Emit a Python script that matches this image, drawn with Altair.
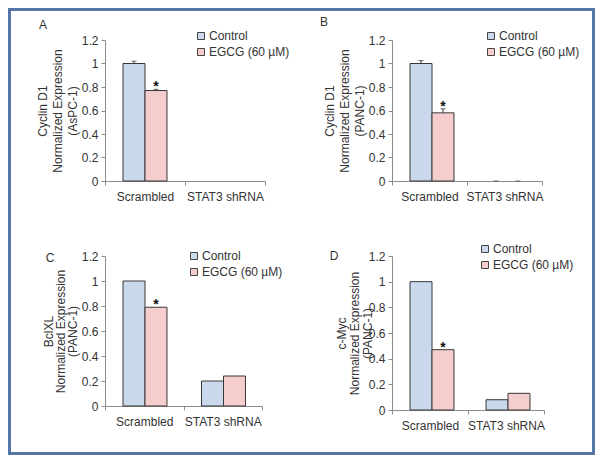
import altair as alt
import pandas as pd

# ---------------- data ----------------
categories = ["Scrambled", "STAT3 shRNA"]
series = ["Control", "EGCG (60 µM)"]
y_ticks = [0, 0.2, 0.4, 0.6, 0.8, 1.0, 1.2]

# Panel A: Cyclin D1 (AsPC-1)
a_control = [1.00, None]
a_egcg = [0.77, None]
a_control_err = [0.02, None]
a_egcg_err = [0.01, None]

# Panel B: Cyclin D1 (PANC-1)
b_control = [1.00, 0.0]
b_egcg = [0.58, 0.0]
b_control_err = [0.025, 0.0]
b_egcg_err = [0.035, 0.0]

# Panel C: BclXL (PANC-1)
c_control = [1.00, 0.20]
c_egcg = [0.79, 0.24]

# Panel D: c-Myc (PANC-1)
d_control = [1.00, 0.08]
d_egcg = [0.47, 0.13]

# asterisk over the EGCG bar of each category
significant = [True, False]

# ---------------- style ----------------
FONT = "Liberation Sans"
TXT = "#333333"
AX = "#8c8c8c"
FILLS = ["#cad8ec", "#f5cdcd"]
FRAME = "#5577a8"


def make_df(ctrl, egcg, ctrl_err=None, egcg_err=None):
    rows = []
    for i, cat in enumerate(categories):
        for s, vals, errs in ((series[0], ctrl, ctrl_err), (series[1], egcg, egcg_err)):
            v = vals[i]
            if v is None:
                continue
            e = errs[i] if errs is not None else None
            rows.append(dict(cat=cat, series=s, value=v, err=e,
                             hi=v + (e or 0.0),
                             star="*" if (s == series[1] and significant[i]) else ""))
    return pd.DataFrame(rows)


def panel(letter, title, df, w, h, letter_xy, legend_xy, title_pad, title_lh, frame=None):
    x = alt.X("cat:N",
              scale=alt.Scale(domain=categories, paddingInner=0, paddingOuter=0),
              axis=alt.Axis(title=None, labelAngle=0, tickBand="extent",
                            domainColor=AX, tickColor=AX, tickSize=4,
                            labelPadding=6, labelFontSize=12, labelFont=FONT,
                            labelColor=TXT))
    xo = alt.XOffset("series:N",
                     scale=alt.Scale(domain=series, paddingInner=0, paddingOuter=0.82))
    yscale = alt.Scale(domain=[0, 1.2], nice=False, zero=True)
    yaxis = alt.Axis(values=y_ticks, format="~g", title=title,
                     domainColor=AX, tickColor=AX, tickSize=4, labelPadding=3,
                     labelFontSize=12, labelFont=FONT, labelColor=TXT,
                     titleFont=FONT, titleFontSize=12, titleFontWeight="normal",
                     titleColor=TXT, titleLineHeight=title_lh, titlePadding=title_pad)

    def Y(field):
        return alt.Y(field, scale=yscale, axis=yaxis)

    bars = alt.Chart(df).transform_filter("datum.value > 0").mark_bar(
        stroke="#383838", strokeWidth=1
    ).encode(
        x=x, xOffset=xo, y=Y("value:Q"),
        color=alt.Color("series:N",
                        scale=alt.Scale(domain=series, range=FILLS),
                        legend=alt.Legend(title=None, orient="none",
                                          legendX=legend_xy[0], legendY=legend_xy[1],
                                          symbolType="square", symbolSize=49,
                                          symbolStrokeColor="#444444",
                                          symbolStrokeWidth=1, symbolOpacity=1,
                                          labelFont=FONT, labelFontSize=12,
                                          labelColor=TXT, labelOffset=2,
                                          rowPadding=4, padding=0)),
    )
    errdf = alt.Chart(df).transform_filter("isValid(datum.err)")
    rule = errdf.mark_rule(color="#333333", strokeWidth=1).encode(
        x=x, xOffset=xo, y=Y("value:Q"), y2="hi:Q")
    cap = errdf.mark_tick(color="#333333", size=5, thickness=1,
                          orient="horizontal").encode(x=x, xOffset=xo, y=Y("hi:Q"))
    star = alt.Chart(df).transform_filter("datum.star == '*'").mark_text(
        fontSize=14, fontWeight="bold", font=FONT, color="#111111",
        baseline="alphabetic", dy=2
    ).encode(x=x, xOffset=xo, y=Y("hi:Q"), text="star:N")
    lab = alt.Chart(pd.DataFrame({"t": [letter]})).mark_text(
        fontSize=12, font=FONT, color=TXT, baseline="middle", align="center"
    ).encode(text="t:N", x=alt.value(letter_xy[0]), y=alt.value(letter_xy[1]))

    layers = [bars, rule, cap, star, lab]
    if frame is not None:
        border = alt.Chart(pd.DataFrame({"f": [0]})).mark_rect(
            fill="white", fillOpacity=0, stroke=FRAME, strokeWidth=3
        ).encode(x=alt.value(frame[0]), x2=alt.value(frame[1]),
                 y=alt.value(frame[2]), y2=alt.value(frame[3]))
        layers = [border] + layers
    return alt.layer(*layers).properties(width=w, height=h)


pa = panel("A", ["Cyclin D1", "Normalized Expression", "(AsPC-1)"],
           make_df(a_control, a_egcg, a_control_err, a_egcg_err),
           160, 141, (-62, -15), (90, -10), 2, 15,
           frame=(-95.5, 488.5, -30.5, 413.5))
pb = panel("B", ["Cyclin D1", "Normalized Expression", "(PANC-1)"],
           make_df(b_control, b_egcg, b_control_err, b_egcg_err),
           150, 141, (-68, -18), (93, -10), 2, 15)
pc = panel("C", ["BclXL", "Normalized Expression", "(PANC-1)"],
           make_df(c_control, c_egcg),
           157, 150, (-55, 2), (83, -6), 2, 12)
pd_ = panel("D", ["c-Myc", "Normalized Expression", "(PANC-1)"],
            make_df(d_control, d_egcg),
            152, 154, (-58, 0), (87, -13), -6, 13)

chart = alt.concat(
    pa, pb, pc, pd_, columns=2, bounds="flush",
    spacing={"row": 75, "column": 127},
).resolve_scale(color="independent").configure(
    padding=0,
    font=FONT,
).configure_view(stroke=None).configure_axis(grid=False)

chart.save("out.html", embed_options={"renderer": "svg", "actions": False})
